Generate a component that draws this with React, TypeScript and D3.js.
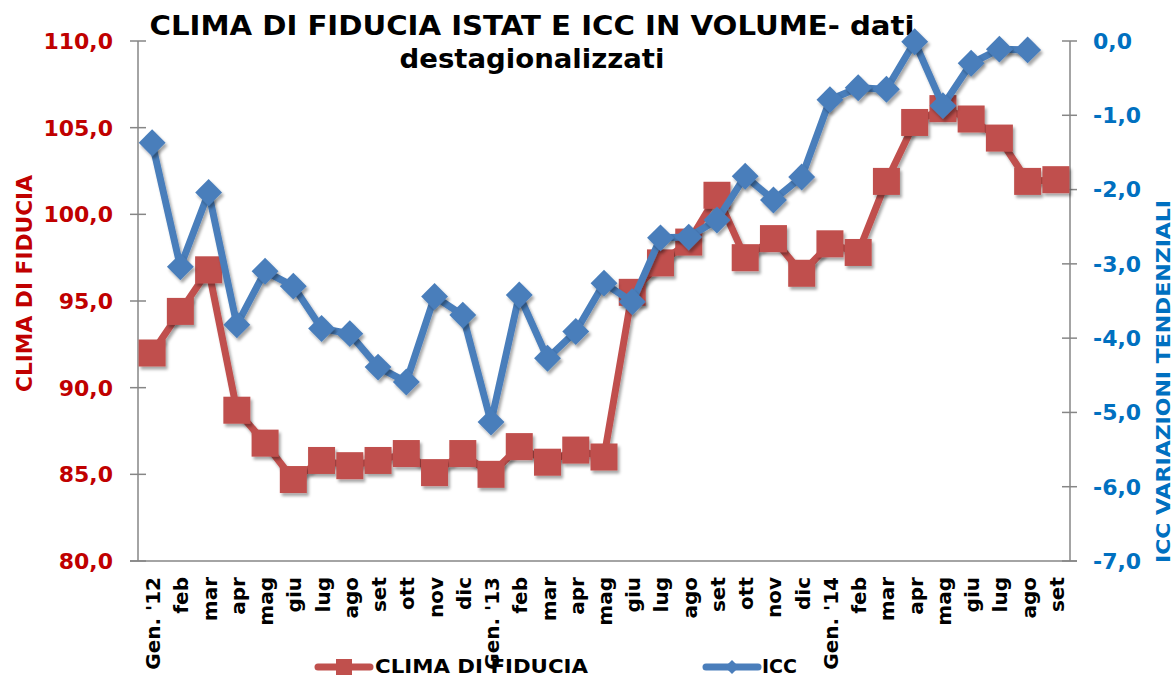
import React from 'react';
import * as d3 from 'd3';

// categorie mensili gen 2012 - set 2014
const months = [
  "Gen. '12", 'feb', 'mar', 'apr', 'mag', 'giu', 'lug', 'ago', 'set', 'ott', 'nov', 'dic',
  "Gen. '13", 'feb', 'mar', 'apr', 'mag', 'giu', 'lug', 'ago', 'set', 'ott', 'nov', 'dic',
  "Gen. '14", 'feb', 'mar', 'apr', 'mag', 'giu', 'lug', 'ago', 'set'
];

// clima di fiducia ISTAT (asse sinistro)
const clima = [
  92.0, 94.4, 96.8, 88.7, 86.8, 84.7, 85.8, 85.5, 85.8, 86.2, 85.1, 86.2,
  85.0, 86.6, 85.7, 86.4, 86.0, 95.5, 97.2, 98.4, 101.1, 97.5, 98.6, 96.6,
  98.3, 97.8, 101.9, 105.3, 106.1, 105.5, 104.4, 101.9, 102.0
];

// ICC variazioni tendenziali (asse destro), set '14 non disponibile
const icc: (number | null)[] = [
  -1.37, -3.04, -2.04, -3.82, -3.10, -3.30, -3.87, -3.94, -4.39, -4.59, -3.44, -3.69,
  -5.13, -3.42, -4.27, -3.91, -3.26, -3.51, -2.65, -2.64, -2.41, -1.82, -2.14, -1.83,
  -0.79, -0.63, -0.65, -0.01, -0.87, -0.30, -0.11, -0.12, null
];

const leftTicks = [80, 85, 90, 95, 100, 105, 110];
const rightTicks = [-7, -6, -5, -4, -3, -2, -1, 0];

const W = 1175;
const H = 679;
const RED = '#C0504D';
const BLUE = '#4A7EBB';
const FONT = '"DejaVu Sans", Verdana, sans-serif';

const fmt = (v: number) => v.toFixed(1).replace('.', ',');

export default function App() {
  const left = 138;
  const right = 1070;
  const top = 41;
  const bottom = 561;

  const x = d3.scaleBand<number>()
    .domain(d3.range(months.length))
    .range([left, right])
    .padding(0);
  const cx = (i: number) => (x(i) || 0) + x.bandwidth() / 2;

  const yL = d3.scaleLinear().domain([80, 110]).range([bottom, top]);
  const yR = d3.scaleLinear().domain([-7, 0]).range([bottom, top]);

  const redLine = d3.line<number>()
    .x((_, i) => cx(i))
    .y(d => yL(d));

  const blueLine = d3.line<number | null>()
    .defined(d => d !== null)
    .x((_, i) => cx(i))
    .y(d => yR(d as number));

  const sq = 27;
  const dm = 19;

  return (
    <div style={{ position: 'absolute', left: 0, top: 0 }}>
      <svg width={W} height={H} style={{ display: 'block', background: '#fff' }} fontFamily={FONT}>
        <defs>
          <filter id="shadow" x="-30%" y="-30%" width="160%" height="160%">
            <feDropShadow dx="2" dy="3" stdDeviation="1.8" floodColor="#000" floodOpacity="0.35" />
          </filter>
        </defs>

        {/* titolo */}
        <text x={532} y={35} textAnchor="middle" fontSize={26} fontWeight="bold" fill="#000"
          textLength={765} lengthAdjust="spacingAndGlyphs">
          CLIMA DI FIDUCIA ISTAT E ICC IN VOLUME- dati
        </text>
        <text x={532} y={68} textAnchor="middle" fontSize={26} fontWeight="bold" fill="#000"
          textLength={265} lengthAdjust="spacingAndGlyphs">
          destagionalizzati
        </text>

        {/* assi */}
        <g stroke="#868686" strokeWidth={1.5}>
          <line x1={left} x2={left} y1={top} y2={bottom} />
          <line x1={right} x2={right} y1={top} y2={bottom} />
          <line x1={left - 8} x2={right + 7} y1={bottom} y2={bottom} />
          {leftTicks.map(t => (
            <line key={'l' + t} x1={left - 8} x2={left + 8} y1={yL(t)} y2={yL(t)} />
          ))}
          {rightTicks.map(t => (
            <line key={'r' + t} x1={right - 8} x2={right + 7} y1={yR(t)} y2={yR(t)} />
          ))}
        </g>

        {leftTicks.map(t => (
          <text key={'lt' + t} x={113} y={yL(t)} dy="0.36em" textAnchor="end"
            fontSize={22} fontWeight="bold" fill="#C00000">{fmt(t)}</text>
        ))}
        {rightTicks.map(t => (
          <text key={'rt' + t} x={1093} y={yR(t)} dy="0.36em" textAnchor="start"
            fontSize={22} fontWeight="bold" fill="#0070C0">{fmt(t)}</text>
        ))}

        {/* titoli assi */}
        <text transform={`translate(32,${283.5}) rotate(-90)`} textAnchor="middle"
          fontSize={21} fontWeight="bold" fill="#C00000"
          textLength={217} lengthAdjust="spacingAndGlyphs">CLIMA DI FIDUCIA</text>
        <text transform={`translate(1170,${381.5}) rotate(-90)`} textAnchor="middle"
          fontSize={20} fontWeight="bold" fill="#0070C0"
          textLength={363} lengthAdjust="spacingAndGlyphs">ICC VARIAZIONI TENDENZIALI</text>

        {/* etichette mesi */}
        {months.map((m, i) => (
          <text key={'m' + i} transform={`translate(${cx(i) + 8},577) rotate(-90)`}
            textAnchor="end" fontSize={20} fontWeight="bold" fill="#000">{m}</text>
        ))}

        {/* serie clima */}
        <path d={redLine(clima) || ''} fill="none" stroke={RED} strokeWidth={7}
          strokeLinejoin="round" filter="url(#shadow)" />
        <g fill={RED} filter="url(#shadow)">
          {clima.map((v, i) => (
            <rect key={'c' + i} x={cx(i) - sq / 2} y={yL(v) - sq / 2} width={sq} height={sq} />
          ))}
        </g>

        {/* serie ICC */}
        <path d={blueLine(icc) || ''} fill="none" stroke={BLUE} strokeWidth={7}
          strokeLinejoin="round" filter="url(#shadow)" />
        <g fill={BLUE} filter="url(#shadow)">
          {icc.map((v, i) => v === null ? null : (
            <rect key={'i' + i} x={-dm / 2} y={-dm / 2} width={dm} height={dm}
              transform={`translate(${cx(i)},${yR(v)}) rotate(45)`} />
          ))}
        </g>

        {/* legenda */}
        <g>
          <line x1={318} x2={370} y1={667} y2={667} stroke={RED} strokeWidth={7} strokeLinecap="round" />
          <rect x={336} y={659} width={16} height={16} fill={RED} />
          <text x={375} y={673} fontSize={19} fontWeight="bold" fill="#000"
            textLength={213} lengthAdjust="spacingAndGlyphs">CLIMA DI FIDUCIA</text>
          <line x1={706} x2={758} y1={667} y2={667} stroke={BLUE} strokeWidth={7} strokeLinecap="round" />
          <rect x={-5} y={-5} width={10} height={10} fill={BLUE}
            transform="translate(732,667) rotate(45)" />
          <text x={762} y={673} fontSize={19} fontWeight="bold" fill="#000">ICC</text>
        </g>
      </svg>
    </div>
  );
}
